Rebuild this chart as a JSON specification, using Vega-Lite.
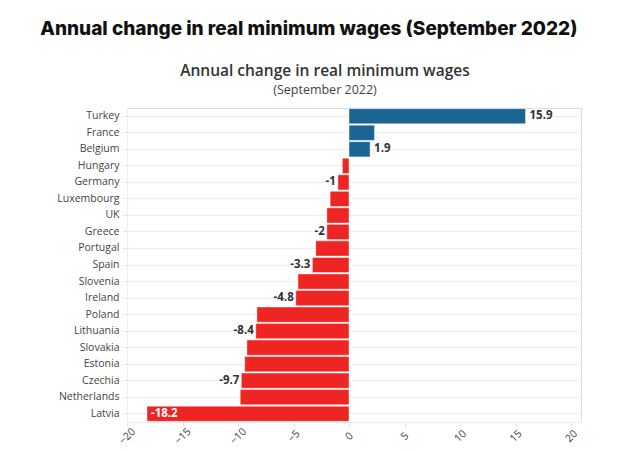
{
  "$schema": "https://vega.github.io/schema/vega-lite/v6.json",
  "background": "white",
  "padding": {"left": 40, "top": 19, "right": 5, "bottom": 5},
  "title": {
    "text": "Annual change in real minimum wages (September 2022)",
    "font": "Inter",
    "fontWeight": 800,
    "fontSize": 19,
    "color": "#111111",
    "anchor": "middle",
    "dx": -10,
    "offset": 25
  },
  "data": {
    "values": [
      {"country": "Turkey", "change": 15.9, "label": "15.9"},
      {"country": "France", "change": 2.3, "label": null},
      {"country": "Belgium", "change": 1.9, "label": "1.9"},
      {"country": "Hungary", "change": -0.6, "label": null},
      {"country": "Germany", "change": -1.0, "label": "-1"},
      {"country": "Luxembourg", "change": -1.7, "label": null},
      {"country": "UK", "change": -2.0, "label": null},
      {"country": "Greece", "change": -2.0, "label": "-2"},
      {"country": "Portugal", "change": -3.0, "label": null},
      {"country": "Spain", "change": -3.3, "label": "-3.3"},
      {"country": "Slovenia", "change": -4.6, "label": null},
      {"country": "Ireland", "change": -4.8, "label": "-4.8"},
      {"country": "Poland", "change": -8.3, "label": null},
      {"country": "Lithuania", "change": -8.4, "label": "-8.4"},
      {"country": "Slovakia", "change": -9.2, "label": null},
      {"country": "Estonia", "change": -9.4, "label": null},
      {"country": "Czechia", "change": -9.7, "label": "-9.7"},
      {"country": "Netherlands", "change": -9.8, "label": null},
      {"country": "Latvia", "change": -18.2, "label": "-18.2"}
    ]
  },
  "vconcat": [
    {
      "width": 454,
      "height": 314,
      "title": {
        "text": "Annual change in real minimum wages",
        "subtitle": "(September 2022)",
        "font": "Open Sans",
        "fontSize": 15.5,
        "fontWeight": 600,
        "color": "#333333",
        "subtitleFont": "Open Sans",
        "subtitleFontSize": 12.5,
        "subtitleColor": "#444444",
        "subtitlePadding": 4,
        "anchor": "middle",
        "dx": -29,
        "offset": 12
      },
      "encoding": {
        "y": {
          "field": "country",
          "type": "nominal",
          "sort": null,
          "scale": {"paddingInner": 0.08, "paddingOuter": 0.04},
          "axis": {
            "title": null,
            "labelFont": "Open Sans",
            "labelFontSize": 10.5,
            "labelColor": "#444444",
            "labelPadding": 4,
            "grid": true,
            "gridColor": "#eeeeee",
            "domainColor": "#eeeeee",
            "tickColor": "#e0e0e0",
            "tickSize": 4
          }
        },
        "x": {
          "field": "change",
          "type": "quantitative",
          "scale": {"domain": [-20, 20.9], "nice": false, "zero": false},
          "axis": {
            "title": null,
            "values": [-20, -15, -10, -5, 0, 5, 10, 15, 20],
            "grid": false,
            "labelAngle": -45,
            "labelAlign": "center",
            "labelBaseline": "middle",
            "labelPadding": 10,
            "labelFont": "Open Sans",
            "labelFontSize": 10.5,
            "labelColor": "#444444",
            "domainColor": "#eeeeee",
            "tickColor": "#e0e0e0",
            "tickSize": 4
          }
        }
      },
      "layer": [
        {
          "mark": {"type": "bar", "stroke": "#ffffff", "strokeOpacity": 0.45, "strokeWidth": 1},
          "encoding": {
            "color": {
              "condition": {"test": "datum.change > 0", "value": "#1b6592"},
              "value": "#ee2522"
            }
          }
        },
        {
          "transform": [{"filter": "datum.label != null && datum.change > 0"}],
          "mark": {"type": "text", "align": "left", "dx": 4, "font": "Open Sans", "fontSize": 11.5, "fontWeight": 700, "color": "#333333"},
          "encoding": {"text": {"field": "label"}}
        },
        {
          "transform": [{"filter": "datum.label != null && datum.change < 0 && datum.change > -15"}],
          "mark": {"type": "text", "align": "right", "dx": -2, "font": "Open Sans", "fontSize": 11.5, "fontWeight": 700, "color": "#333333"},
          "encoding": {"text": {"field": "label"}}
        },
        {
          "transform": [{"filter": "datum.label != null && datum.change <= -15"}],
          "mark": {"type": "text", "align": "left", "dx": 4, "font": "Open Sans", "fontSize": 11.5, "fontWeight": 700, "color": "#ffffff"},
          "encoding": {"text": {"field": "label"}}
        }
      ]
    }
  ]
}
